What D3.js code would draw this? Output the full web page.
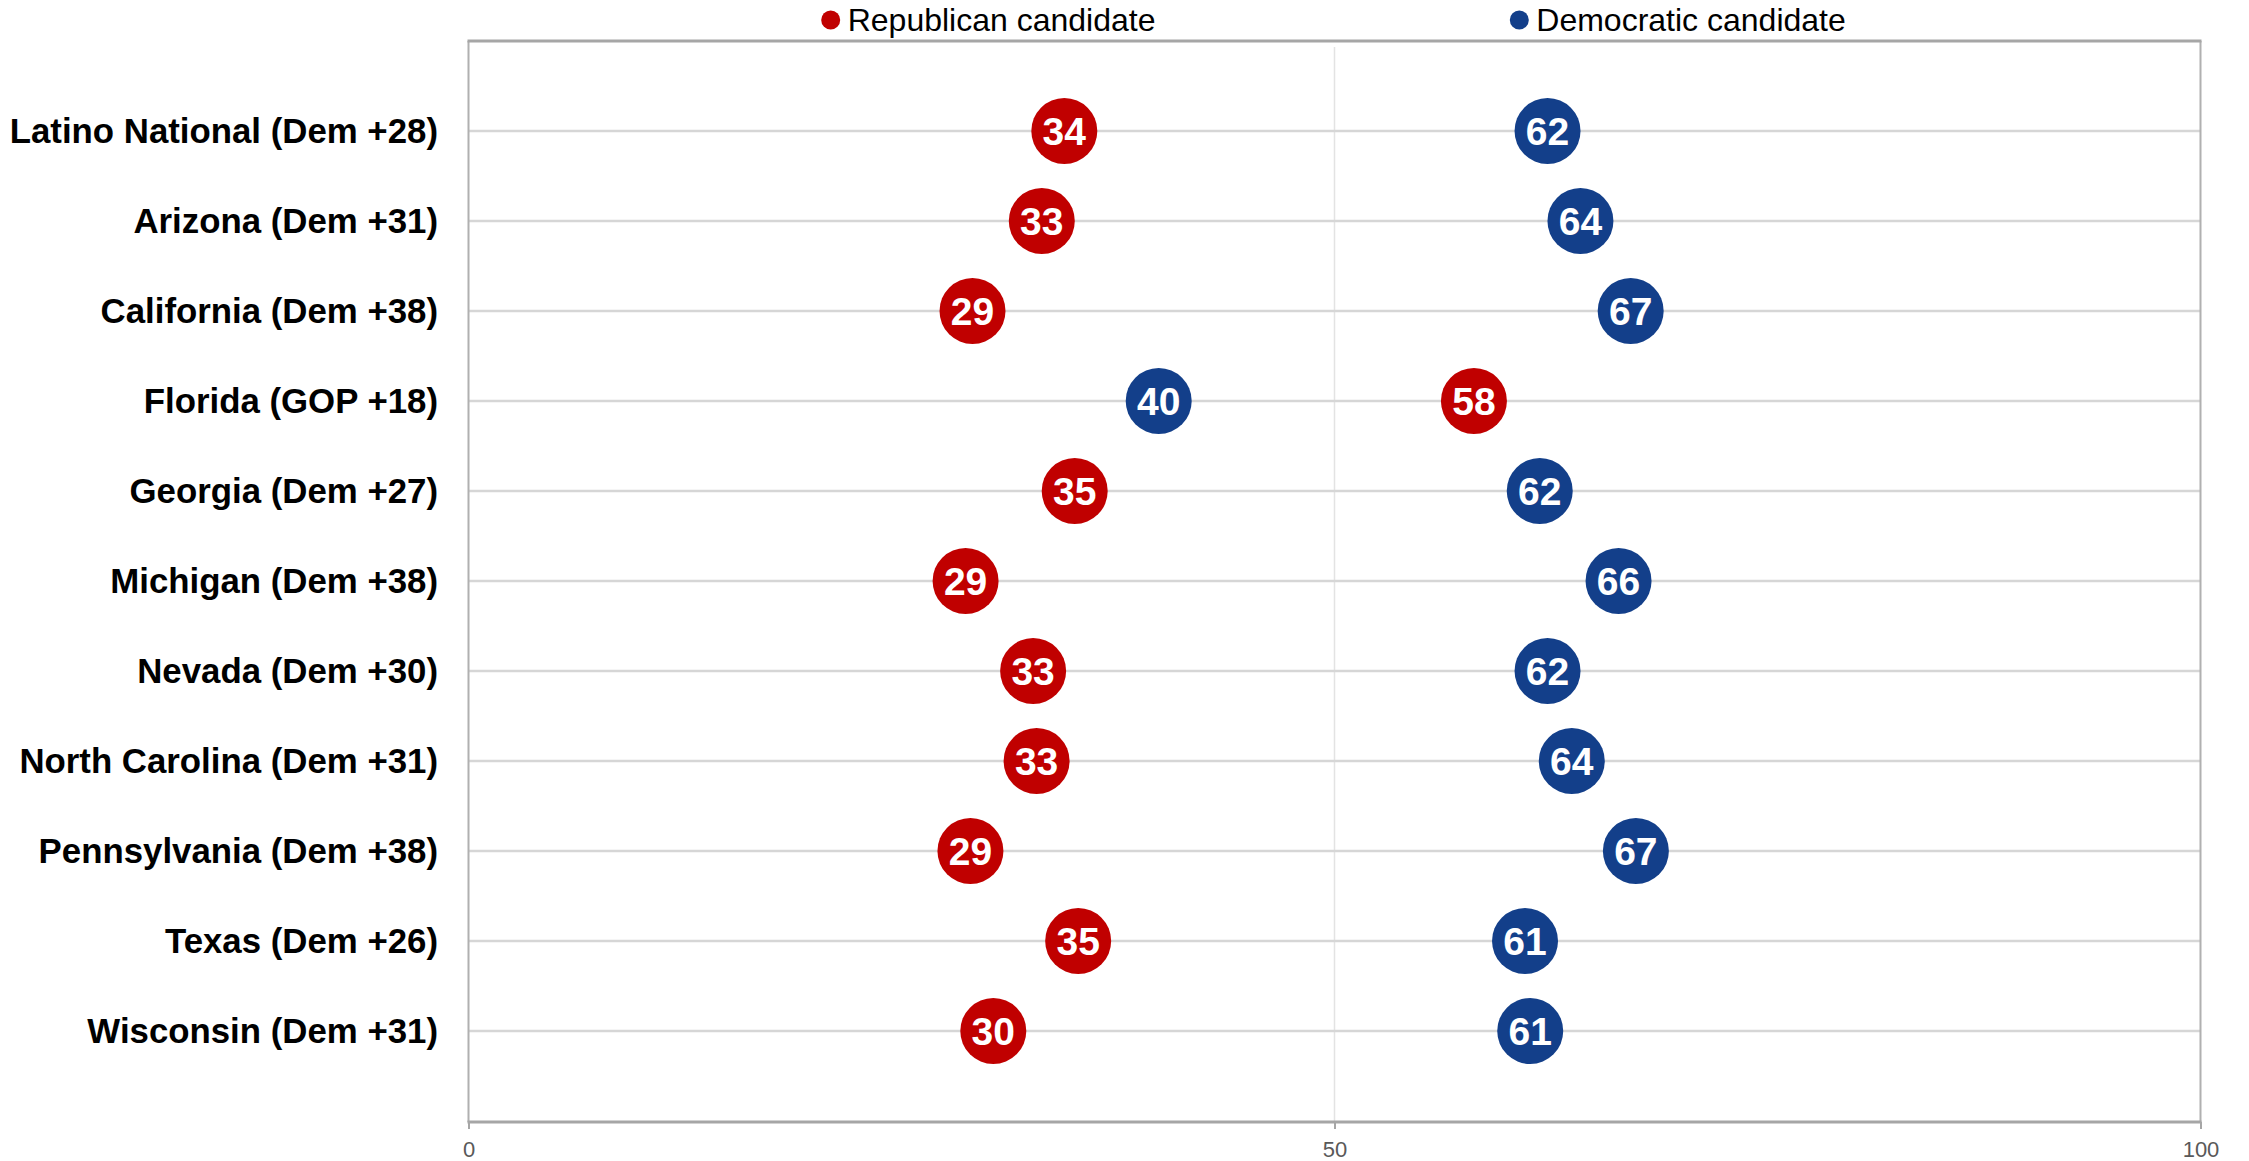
<!DOCTYPE html>
<html>
<head>
<meta charset="utf-8">
<script src="https://cdn.jsdelivr.net/npm/d3@7/dist/d3.min.js"></script>
<style>
  html, body { margin: 0; padding: 0; background: #fff; }
  svg { display: block; }
  text { font-family: "Liberation Sans", Arial, sans-serif; }
</style>
</head>
<body>
<svg id="chart" width="2249" height="1161"></svg>
<script>
// ---- data ----
const categories = [
  "Latino National (Dem +28)",
  "Arizona (Dem +31)",
  "California (Dem +38)",
  "Florida (GOP +18)",
  "Georgia (Dem +27)",
  "Michigan (Dem +38)",
  "Nevada (Dem +30)",
  "North Carolina (Dem +31)",
  "Pennsylvania (Dem +38)",
  "Texas (Dem +26)",
  "Wisconsin (Dem +31)"
];
const republicanValues = [34.4, 33.1, 29.1, 58.05, 35.0, 28.7, 32.6, 32.8, 28.98, 35.2, 30.3];
const democraticValues = [62.3, 64.2, 67.1, 39.85, 61.85, 66.4, 62.3, 63.7, 67.4, 61.0, 61.3];
const seriesNames = ["Republican candidate", "Democratic candidate"];
const tickValues = [0, 50, 100];

(function () {
// ---- layout ----
const svg = d3.select("#chart");
const plotLeft = 468.5, plotRight = 2200.5, plotTop = 41, plotBottom = 1122;
const colors = { rep: "#c00000", dem: "#133f8a" };

const x = d3.scaleLinear().domain([0, 100]).range([plotLeft, plotRight]);
const y = d3.scalePoint().domain(categories).range([131, 1031]);

// vertical gridline at 50
svg.append("line")
  .attr("x1", x(50)).attr("x2", x(50))
  .attr("y1", 47).attr("y2", plotBottom)
  .attr("stroke", "#e3e3e3").attr("stroke-width", 1.5);

// horizontal gridlines
svg.append("g").selectAll("line").data(categories).join("line")
  .attr("x1", plotLeft).attr("x2", plotRight)
  .attr("y1", d => y(d)).attr("y2", d => y(d))
  .attr("stroke", "#d6d6d6").attr("stroke-width", 2.5);

// frame: left, right, top
svg.append("line").attr("x1", plotLeft).attr("x2", plotLeft).attr("y1", plotTop).attr("y2", plotBottom)
  .attr("stroke", "#b0b0b0").attr("stroke-width", 2);
svg.append("line").attr("x1", plotRight).attr("x2", plotRight).attr("y1", plotTop).attr("y2", plotBottom)
  .attr("stroke", "#b0b0b0").attr("stroke-width", 2);
svg.append("line").attr("x1", plotLeft - 1).attr("x2", plotRight + 1).attr("y1", plotTop).attr("y2", plotTop)
  .attr("stroke", "#a6a6a6").attr("stroke-width", 3);

// bottom axis
const axis = d3.axisBottom(x).tickValues(tickValues).tickSize(7).tickPadding(12).tickFormat(d3.format("d"));
const gAxis = svg.append("g").attr("transform", `translate(0,${plotBottom})`).call(axis);
gAxis.select(".domain").attr("stroke", "#a6a6a6").attr("stroke-width", 3).attr("d", `M${plotLeft - 1},0H${plotRight + 1}`);
gAxis.selectAll(".tick line").attr("stroke", "#a6a6a6").attr("stroke-width", 2);
gAxis.selectAll(".tick text")
  .attr("fill", "#595959")
  .style("font-family", "'Liberation Sans', Arial, sans-serif")
  .style("font-size", "22px");

// category labels
svg.append("g").selectAll("text").data(categories).join("text")
  .attr("x", 438)
  .attr("y", d => y(d) - 1)
  .attr("dy", "0.36em")
  .attr("text-anchor", "end")
  .attr("font-weight", "bold")
  .attr("font-size", 34.8)
  .attr("fill", "#000")
  .text(d => d);

// dots
const r = 33;
function drawSeries(values, color) {
  const g = svg.append("g");
  const data = categories.map((c, i) => ({ c, v: values[i] }));
  g.selectAll("circle").data(data).join("circle")
    .attr("cx", d => x(d.v)).attr("cy", d => y(d.c)).attr("r", r)
    .attr("fill", color);
  g.selectAll("text").data(data).join("text")
    .attr("x", d => x(d.v)).attr("y", d => y(d.c))
    .attr("dy", "0.36em")
    .attr("text-anchor", "middle")
    .attr("font-weight", "bold")
    .attr("font-size", 39)
    .attr("fill", "#fff")
    .text(d => Math.round(d.v));
}
drawSeries(republicanValues, colors.rep);
drawSeries(democraticValues, colors.dem);

// legend
const legend = [
  { name: seriesNames[0], color: colors.rep, x: 830.7 },
  { name: seriesNames[1], color: colors.dem, x: 1519.3 }
];
const lg = svg.append("g").selectAll("g").data(legend).join("g");
lg.append("circle").attr("cx", d => d.x).attr("cy", 20).attr("r", 9.5).attr("fill", d => d.color);
lg.append("text").attr("x", d => d.x + 17).attr("y", 31)
  .attr("font-size", 32).attr("fill", "#000").text(d => d.name);
})();
</script>
</body>
</html>
